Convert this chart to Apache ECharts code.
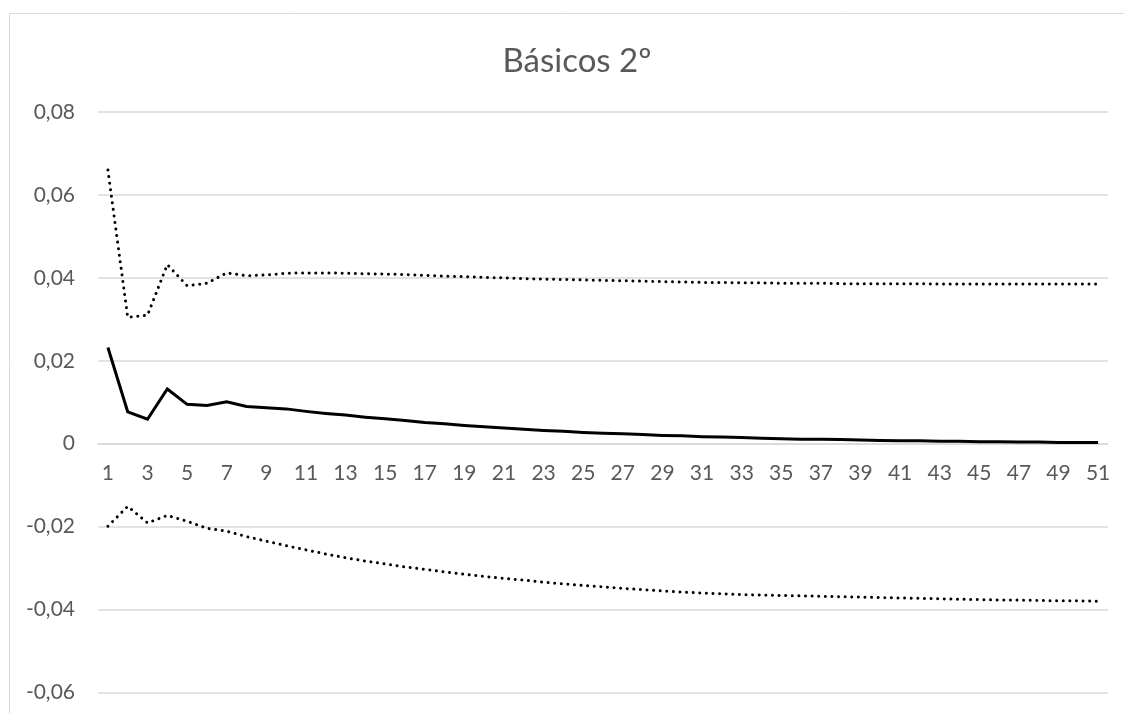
<!DOCTYPE html>
<html>
<head>
<meta charset="utf-8">
<script src="https://cdn.jsdelivr.net/npm/echarts@6/dist/echarts.min.js"></script>
<style>
  html, body { margin: 0; padding: 0; background: #fff; }
  #chart { width: 1124px; height: 713px; }
</style>
</head>
<body>
<div id="chart"></div>
<script>
// categorías del eje X (1..51)
const categories = [];
for (let i = 1; i <= 51; i++) categories.push(String(i));

// valores
const central = [
  0.0232, 0.0077, 0.0059, 0.0132, 0.0095, 0.0092, 0.0101, 0.0090, 0.0087, 0.0084,
  0.0078, 0.0073, 0.0069, 0.0064, 0.0060, 0.0056, 0.0051, 0.0048, 0.0044, 0.0041,
  0.0038, 0.0035, 0.0032, 0.0030, 0.0027, 0.0025, 0.0024, 0.0022, 0.0020, 0.0019,
  0.0017, 0.0016, 0.0015, 0.0013, 0.0012, 0.0011, 0.0011, 0.0010, 0.0009, 0.0008,
  0.0007, 0.0007, 0.0006, 0.0006, 0.0005, 0.0005, 0.0004, 0.0004, 0.0003, 0.0003,
  0.0003
];
const upper = [
  0.0660, 0.0305, 0.0310, 0.0432, 0.0381, 0.0387, 0.0412, 0.0405, 0.0407, 0.0411,
  0.0412, 0.0412, 0.0411, 0.0410, 0.0409, 0.0408, 0.0406, 0.0404, 0.0403, 0.0401,
  0.0400, 0.0398, 0.0397, 0.0396, 0.0395, 0.0394, 0.0393, 0.0392, 0.0391, 0.0390,
  0.0389, 0.0389, 0.0388, 0.0388, 0.0387, 0.0387, 0.0387, 0.0386, 0.0386, 0.0386,
  0.0386, 0.0386, 0.0385, 0.0385, 0.0385, 0.0385, 0.0385, 0.0385, 0.0385, 0.0385,
  0.0385
];
const lower = [
  -0.0199, -0.0151, -0.0191, -0.0173, -0.0187, -0.0204, -0.0211, -0.0224, -0.0235, -0.0246,
  -0.0256, -0.0266, -0.0275, -0.0283, -0.0290, -0.0297, -0.0303, -0.0309, -0.0315, -0.0320,
  -0.0325, -0.0329, -0.0334, -0.0338, -0.0342, -0.0345, -0.0349, -0.0352, -0.0355, -0.0358,
  -0.0360, -0.0362, -0.0364, -0.0365, -0.0366, -0.0367, -0.0368, -0.0369, -0.0370, -0.0371,
  -0.0372, -0.0373, -0.0374, -0.0375, -0.0376, -0.0377, -0.0377, -0.0378, -0.0379, -0.0379,
  -0.0380
];

const FONT = 'Lato, "Noto Sans", sans-serif';
const chart = echarts.init(document.getElementById('chart'));

// guiones muy cortos con extremo redondo -> línea de puntos
const dotted = { color: '#000', width: 3, type: [0.01, 6.6], cap: 'round' };

// grid en píxeles; el eje X se coloca en el 0 con offset
const gridTop = 112, gridBottom = 20.5, yMin = -0.06, yMax = 0.08;
const plotH = 713 - gridTop - gridBottom;
const zeroOffset = -plotH * (0 - yMin) / (yMax - yMin);

chart.setOption({
  animation: false,
  backgroundColor: '#fff',
  graphic: [{
    type: 'rect',
    shape: { x: 9.5, y: 13.5, width: 1300, height: 900 },
    style: { fill: 'none', stroke: '#d9d9d9', lineWidth: 1 },
    silent: true
  }],
  title: {
    text: 'Básicos 2º',
    left: 572,
    textAlign: 'center',
    top: 40,
    textStyle: { color: '#595959', fontSize: 33, fontWeight: 'normal', fontFamily: FONT }
  },
  grid: { left: 98, right: 16, top: gridTop, bottom: gridBottom, containLabel: false, outerBoundsMode: 'none' },
  xAxis: {
    type: 'category',
    data: categories,
    boundaryGap: true,
    position: 'bottom',
    offset: zeroOffset,
    axisLine: { show: true, onZero: false, lineStyle: { color: '#d9d9d9', width: 1.5 } },
    axisTick: { show: false },
    axisLabel: {
      interval: 1,
      margin: 19,
      color: '#595959',
      fontSize: 21,
      fontFamily: FONT
    },
    splitLine: { show: false }
  },
  yAxis: {
    type: 'value',
    min: yMin,
    max: yMax,
    interval: 0.02,
    axisLine: { show: false },
    axisTick: { show: false },
    axisLabel: {
      margin: 23,
      color: '#595959',
      fontSize: 21,
      fontFamily: FONT,
      formatter: v => Math.abs(v) < 1e-9 ? '0' : v.toFixed(2).replace('.', ',')
    },
    splitLine: { lineStyle: { color: '#d9d9d9', width: 1.5 } }
  },
  series: [
    {
      type: 'line', name: 'sup', data: upper, symbol: 'none',
      lineStyle: dotted
    },
    {
      type: 'line', name: 'central', data: central, symbol: 'none',
      lineStyle: { color: '#000', width: 3, join: 'miter' }
    },
    {
      type: 'line', name: 'inf', data: lower, symbol: 'none',
      lineStyle: dotted
    }
  ]
});
</script>
</body>
</html>
